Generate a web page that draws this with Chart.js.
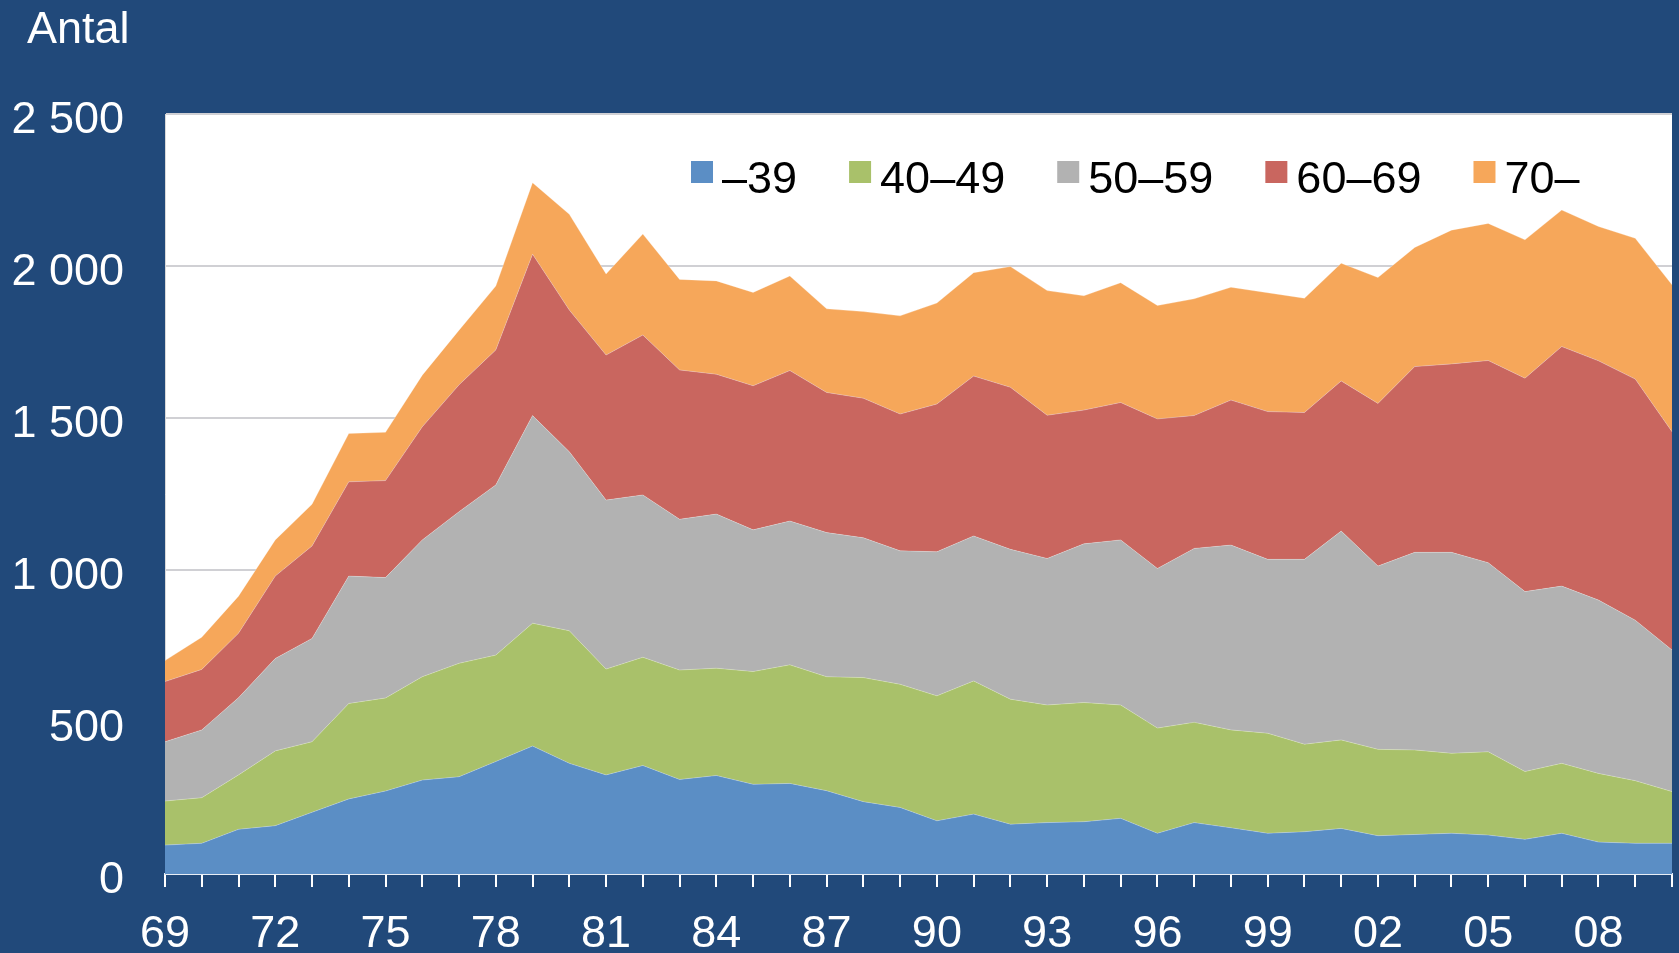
<!DOCTYPE html>
<html>
<head>
<meta charset="utf-8">
<script src="https://cdn.jsdelivr.net/npm/chart.js@4"></script>
<style>
  html, body { margin: 0; padding: 0; background: #21497A; overflow: hidden; }
  canvas { display: block; }
</style>
</head>
<body>
<canvas id="c" width="1679" height="953"></canvas>
<script>
const years = ['69','70','71','72','73','74','75','76','77','78','79','80','81','82','83','84','85','86','87','88','89','90','91','92','93','94','95','96','97','98','99','00','01','02','03','04','05','06','07','08','09','10'];
const seriesLabels = ['\u201339', '40\u201349', '50\u201359', '60\u201369', '70\u2013'];
const under39 = [95,101,147,159,203,247,273,309,320,370,421,364,326,357,311,324,295,298,274,238,219,175,197,164,169,172,183,134,169,152,134,139,150,126,130,134,128,114,134,105,101,101];
const age40_49 = [145,150,179,246,232,314,306,340,373,350,404,436,348,356,360,353,371,390,375,408,405,411,438,411,387,392,373,346,330,322,329,288,291,284,278,263,274,223,230,226,206,170];
const age50_59 = [195,223,254,304,340,419,396,450,499,560,683,589,556,534,496,507,466,473,474,460,439,474,477,493,482,522,543,525,572,608,572,608,687,603,650,661,622,592,583,570,528,466];
const age60_69 = [198,199,212,271,304,310,319,372,417,444,531,466,477,526,491,460,474,495,461,459,450,486,526,533,471,440,452,492,437,477,486,483,494,535,611,620,665,702,788,787,793,718];
const age70plus = [69,106,122,119,137,159,159,170,180,210,235,315,267,332,298,307,307,311,275,285,323,332,340,397,410,376,394,373,384,371,391,376,387,414,392,440,451,455,449,442,463,483];
const yTicks = [0, 500, 1000, 1500, 2000, 2500];
const yTickLabels = ['0', '500', '1 000', '1 500', '2 000', '2 500'];
const xLabelEvery = 3;

const colors = ['#5B8EC5', '#A9C16A', '#B2B2B2', '#C9665F', '#F6A75A'];
const allSeries = [under39, age40_49, age50_59, age60_69, age70plus];
const FONT = '"Liberation Sans", Arial, sans-serif';

const decor = {
  id: 'decor',
  beforeDraw(chart) {
    const ctx = chart.ctx, a = chart.chartArea;
    ctx.save();
    ctx.fillStyle = '#21497A';
    ctx.fillRect(0, 0, chart.width, chart.height);
    ctx.fillStyle = '#FFFFFF';
    ctx.fillRect(a.left, a.top, a.right - a.left, a.bottom - a.top);
    ctx.restore();
  },
  afterDraw(chart) {
    const ctx = chart.ctx;
    ctx.save();
    ctx.fillStyle = '#FFFFFF';
    ctx.font = '45px ' + FONT;
    ctx.textBaseline = 'alphabetic';
    ctx.textAlign = 'left';
    ctx.fillText('Antal', 27, 43);
    // legend
    let x = 691;
    const boxTop = 161, base = 193;
    chart.data.datasets.forEach((ds) => {
      ctx.fillStyle = ds.backgroundColor;
      ctx.fillRect(x, boxTop, 22, 22);
      x += 22 + 9;
      ctx.fillStyle = '#000000';
      ctx.fillText(ds.label, x, base);
      x += ctx.measureText(ds.label).width + 52;
    });
    ctx.restore();
  }
};

new Chart(document.getElementById('c'), {
  type: 'line',
  data: {
    labels: years,
    datasets: allSeries.map((d, i) => ({
      label: seriesLabels[i],
      data: d,
      backgroundColor: colors[i],
      borderColor: 'rgba(255,255,255,0.25)',
      borderWidth: 1,
      pointRadius: 0,
      tension: 0,
      fill: i === 0 ? 'origin' : '-1'
    }))
  },
  options: {
    responsive: false,
    devicePixelRatio: 1,
    animation: false,
    layout: { padding: { top: 114, right: 7, left: 0, bottom: 0 } },
    plugins: {
      legend: { display: false },
      title: { display: false },
      tooltip: { enabled: false }
    },
    scales: {
      x: {
        offset: false,
        grid: { drawOnChartArea: false, drawTicks: true, tickLength: 13, color: '#FFFFFF', lineWidth: 2 },
        border: { color: '#E8EEF6', width: 2 },
        ticks: {
          autoSkip: false,
          maxRotation: 0,
          padding: 21,
          color: '#FFFFFF',
          font: { family: FONT, size: 45 },
          callback: (v, i) => (i % xLabelEvery === 0 ? years[i] : '')
        },
        afterFit: (s) => { s.height = 79; s.paddingLeft = 0; s.paddingRight = 0; }
      },
      y: {
        stacked: true,
        min: 0,
        max: 2500,
        grid: { color: '#D0D0D4', lineWidth: 2, drawTicks: false },
        border: { display: true, color: '#D9D9D9', width: 1 },
        ticks: {
          stepSize: 500,
          padding: 41,
          labelOffset: 7,
          color: '#FFFFFF',
          font: { family: FONT, size: 45 },
          callback: (v) => { const k = yTicks.indexOf(v); return k >= 0 ? yTickLabels[k] : ''; }
        },
        afterFit: (s) => { s.width = 165; s.paddingTop = 0; s.paddingBottom = 0; }
      }
    }
  },
  plugins: [decor]
});
</script>
</body>
</html>
